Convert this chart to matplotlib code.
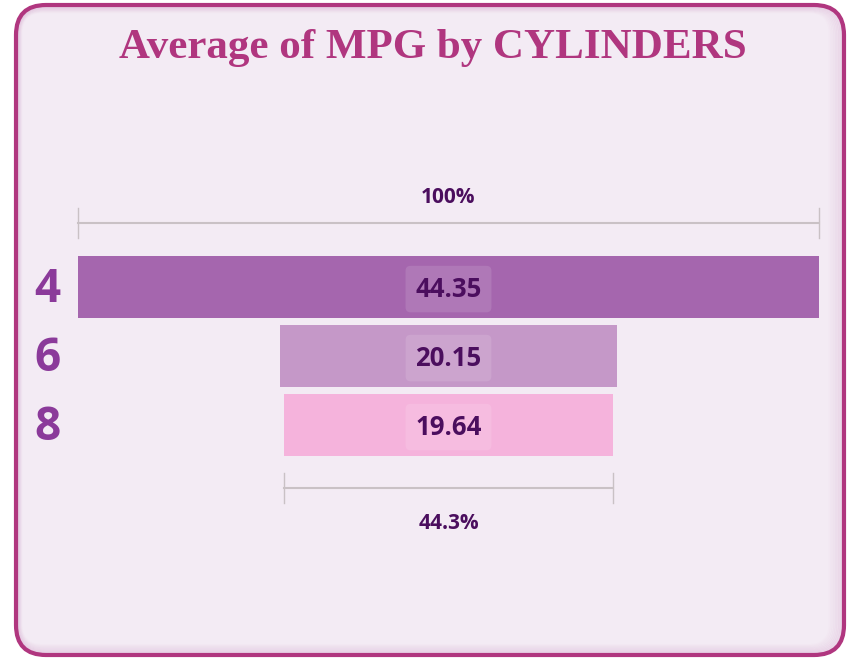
import matplotlib
matplotlib.use("Agg")
import matplotlib.pyplot as plt
from matplotlib.patches import FancyBboxPatch

# data
cylinders = ["4", "6", "8"]
avg_mpg = [44.35, 20.15, 19.64]
bar_colors = ["#A566AE", "#C598C8", "#F5B3DC"]

title = "Average of MPG by CYLINDERS"
title_color = "#B0367F"
label_color = "#8B3A9A"
value_color = "#4B0E5E"
bg_color = "#F3EBF4"
bracket_color = "#C9C1C5"

W, H = 856, 670
fig = plt.figure(figsize=(W / 100, H / 100), dpi=100)
fig.patch.set_facecolor("white")

# background axes in pixel units for the card
bg = fig.add_axes([0, 0, 1, 1])
bg.set_xlim(0, W)
bg.set_ylim(H, 0)
bg.axis("off")

card = FancyBboxPatch((16, 5), 828, 650, boxstyle="round,pad=0,rounding_size=30",
                      fc=bg_color, ec="none", zorder=0)
bg.add_patch(card)
# soft inner shade, heavier on the right
for i in range(10):
    shade = FancyBboxPatch((16 + i * 0.6, 5 + i * 0.8), 828 - i * 2.2, 650 - i * 1.9,
                           boxstyle="round,pad=0,rounding_size=%d" % (30 - i),
                           fc="none", ec="#D7A9CF", lw=1.5, alpha=0.28 - 0.027 * i, zorder=1)
    bg.add_patch(shade)
border = FancyBboxPatch((16, 5), 828, 650, boxstyle="round,pad=0,rounding_size=30",
                        fc="none", ec=title_color, lw=3, zorder=3)
bg.add_patch(border)

bg.text(433, 48, title, ha="center", va="center", fontsize=31, fontweight="bold",
        family="Liberation Serif", color=title_color)

# funnel axes: x in MPG units centred on 0, y in row index
px_per_unit = 741 / max(avg_mpg)
cx = 448.5
row0, pitch = 287, 69
ax = fig.add_axes([0, 0, 1, 1])
ax.patch.set_alpha(0)
ax.set_xlim(-cx / px_per_unit, (W - cx) / px_per_unit)
ax.set_ylim((H - row0) / pitch, -row0 / pitch)
ax.axis("off")

rows = list(range(len(avg_mpg)))
lefts = [-v / 2 for v in avg_mpg]
ax.barh(rows, avg_mpg, left=lefts, height=62 / pitch, color=bar_colors, zorder=2)

for r, v, c in zip(rows, avg_mpg, cylinders):
    ax.text(0, r + 0.03, "%.2f" % v, ha="center", va="center", fontsize=18.5,
            fontweight="bold", family="Open Sans", color=value_color, zorder=4,
            bbox=dict(boxstyle="round,pad=0.38,rounding_size=0.2", fc="white",
                      alpha=0.12, ec="none"))
    ax.text(-cx / px_per_unit + 47 / px_per_unit, r + 0.03, c, ha="center", va="center",
            fontsize=33, fontweight="bold", family="Open Sans", color=label_color)

# brackets
def bracket(y, width, label, label_dy):
    half = width / 2
    ax.plot([-half, half], [y, y], color=bracket_color, lw=1.5)
    for x in (-half, half):
        ax.plot([x, x], [y - 0.22, y + 0.22], color=bracket_color, lw=1)
    ax.text(0, y + label_dy, label, ha="center", va="center", fontsize=15,
            fontweight="bold", family="Open Sans", color=value_color)

bracket(-0.928, avg_mpg[0], "100%", -0.37)
pct = avg_mpg[-1] / avg_mpg[0] * 100
bracket(2 + 0.913, avg_mpg[-1], "%.1f%%" % pct, 0.51)

fig.savefig("out.png", dpi=100, facecolor=fig.get_facecolor())
